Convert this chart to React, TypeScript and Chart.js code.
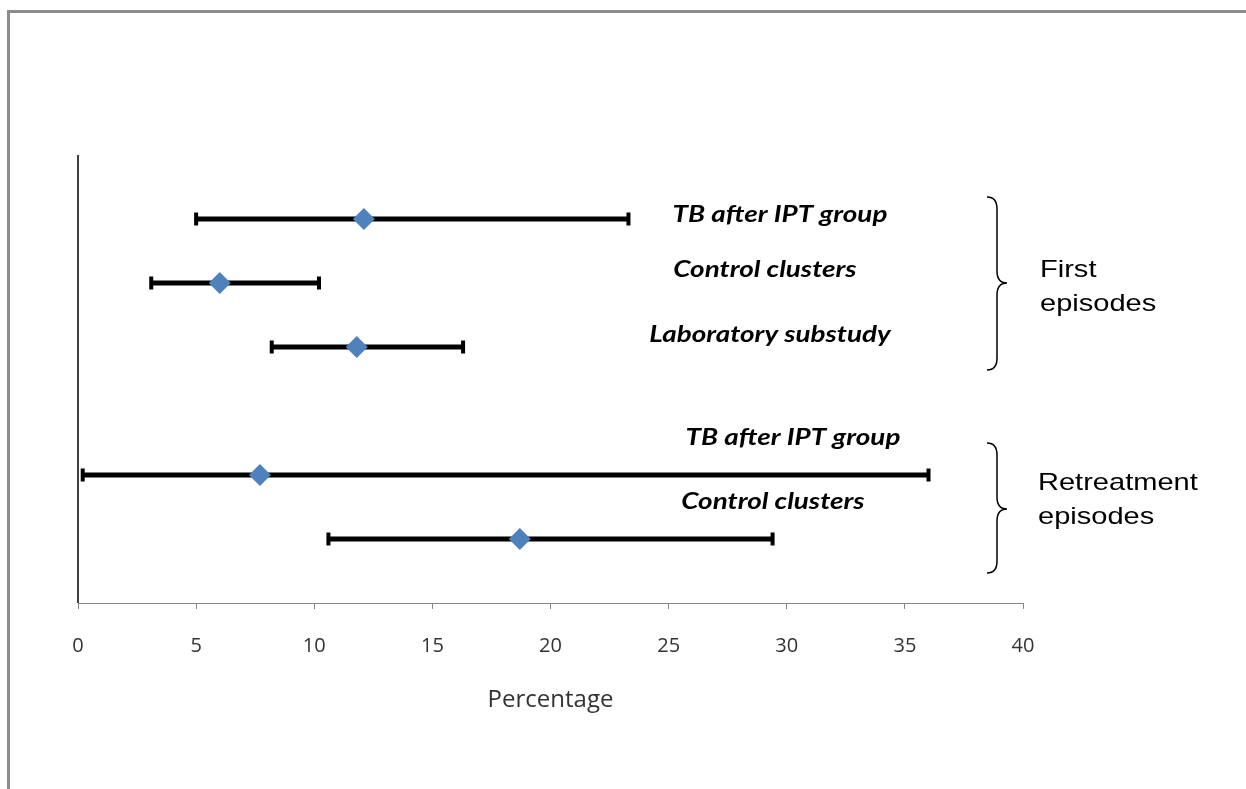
import React, { useEffect, useRef } from "react";
import { Chart, registerables } from "chart.js";

Chart.register(...registerables);

// Rows (y-position index, 6 = top) and values (percentage)
const rowLabels = ["TB after IPT group", "Control clusters", "Laboratory substudy", "TB after IPT group", "Control clusters"];
const rowPositions = [6, 5, 4, 2, 1];
const estimates = [12.1, 6.0, 11.8, 7.7, 18.7];
const lowerCI = [5.0, 3.1, 8.2, 0.2, 10.6];
const upperCI = [23.3, 10.2, 16.3, 36.0, 29.4];
const xTicks = [0, 5, 10, 15, 20, 25, 30, 35, 40];
const groupNames = [["First", "episodes"], ["Retreatment", "episodes"]];

// label placement (pixel centers) and brace placement
const labelPx = [
  { x: 780, y: 215 },
  { x: 765, y: 270 },
  { x: 770, y: 335 },
  { x: 793, y: 438 },
  { x: 773, y: 502 },
];
const bracePx = [
  { top: 197, tip: 283, bottom: 370, textX: 1040, textY: [277, 311] },
  { top: 443, tip: 509, bottom: 573, textX: 1038, textY: [490, 524] },
];
const STRETCH = 1.21;

const sansFont = "'Open Sans', Lato, sans-serif";

const overlayPlugin = {
  id: "overlay",
  beforeDraw(chart: any) {
    const ctx = chart.ctx;
    ctx.save();
    ctx.fillStyle = "#ffffff";
    ctx.fillRect(0, 0, chart.width, chart.height);
    // outer frame
    ctx.strokeStyle = "#8c8c8c";
    ctx.lineWidth = 3;
    ctx.beginPath();
    ctx.moveTo(8.5, chart.height);
    ctx.lineTo(8.5, 11.5);
    ctx.lineTo(chart.width, 11.5);
    ctx.stroke();
    ctx.restore();
  },
  afterDatasetsDraw(chart: any) {
    const ctx = chart.ctx;
    const area = chart.chartArea;
    ctx.save();
    // y axis line
    ctx.strokeStyle = "#000000";
    ctx.lineWidth = 1.5;
    ctx.beginPath();
    ctx.moveTo(area.left, area.top);
    ctx.lineTo(area.left, area.bottom);
    ctx.stroke();

    // row labels (horizontally stretched like the reference)
    ctx.fillStyle = "#000000";
    ctx.font = "italic bold 23px Lato, 'Open Sans', sans-serif";
    ctx.textAlign = "center";
    ctx.textBaseline = "middle";
    rowLabels.forEach((t, i) => {
      ctx.save();
      ctx.translate(labelPx[i].x, labelPx[i].y);
      ctx.scale(STRETCH, 1);
      ctx.fillText(t, 0, 0);
      ctx.restore();
    });

    // braces
    ctx.lineWidth = 1.5;
    bracePx.forEach((b, gi) => {
      const x0 = 987, x1 = 997, x2 = 1007;
      ctx.beginPath();
      ctx.moveTo(x0, b.top);
      ctx.quadraticCurveTo(x1, b.top, x1, b.top + 12);
      ctx.lineTo(x1, b.tip - 12);
      ctx.quadraticCurveTo(x1, b.tip, x2, b.tip);
      ctx.quadraticCurveTo(x1, b.tip, x1, b.tip + 12);
      ctx.lineTo(x1, b.bottom - 12);
      ctx.quadraticCurveTo(x1, b.bottom, x0, b.bottom);
      ctx.stroke();
      ctx.font = "24px 'Liberation Sans', Arial, sans-serif";
      ctx.textAlign = "left";
      ctx.textBaseline = "alphabetic";
      groupNames[gi].forEach((line, li) => {
        ctx.save();
        ctx.translate(b.textX, b.textY[li]);
        ctx.scale(STRETCH, 1);
        ctx.fillText(line, 0, 0);
        ctx.restore();
      });
    });
    ctx.restore();
  },
};

export default function App() {
  const ref = useRef<HTMLCanvasElement>(null);
  useEffect(() => {
    if (!ref.current) return;
    const ciDatasets = rowPositions.map((y, i) => ({
      type: "line" as const,
      data: [
        { x: lowerCI[i], y },
        { x: upperCI[i], y },
      ],
      borderColor: "#000000",
      backgroundColor: "#000000",
      borderWidth: 5,
      pointStyle: "line" as const,
      pointRotation: 90,
      pointRadius: 6.5,
      pointBorderWidth: 4,
      pointBorderColor: "#000000",
      showLine: true,
      order: 2,
    }));
    const chart = new Chart(ref.current, {
      type: "scatter",
      data: {
        datasets: [
          {
            type: "scatter" as const,
            data: rowPositions.map((y, i) => ({ x: estimates[i], y })),
            pointStyle: "rectRot",
            pointRadius: 11,
            pointBackgroundColor: "#4f81bd",
            pointBorderColor: "#4f81bd",
            pointBorderWidth: 0,
            order: 0,
          },
          ...ciDatasets,
        ] as any,
      },
      options: {
        responsive: false,
        animation: false,
        events: [],
        layout: { padding: { left: 78, right: 223, top: 155, bottom: 0 } },
        plugins: { legend: { display: false }, tooltip: { enabled: false }, title: { display: false } },
        scales: {
          x: {
            type: "linear",
            min: 0,
            max: 40,
            afterBuildTicks: (scale: any) => {
              scale.ticks = xTicks.map((v) => ({ value: v }));
            },
            afterFit: (scale: any) => {
              scale.height = 186;
            },
            grid: {
              drawOnChartArea: false,
              drawTicks: true,
              tickLength: 6,
              color: "#868686",
              lineWidth: 1,
            },
            border: { display: true, color: "#868686", width: 1 },
            ticks: {
              color: "#333333",
              font: { family: sansFont, size: 20 },
              padding: 25,
              maxRotation: 0,
              autoSkip: false,
            },
            title: {
              display: true,
              text: "Percentage",
              color: "#333333",
              font: { family: sansFont, size: 24 },
              padding: { top: 4, bottom: 74 },
            },
          },
          y: {
            type: "linear",
            min: 0,
            max: 7,
            display: false,
          },
        },
      },
      plugins: [overlayPlugin],
    });
    return () => chart.destroy();
  }, []);
  return (
    <canvas
      ref={ref}
      width={1246}
      height={789}
      style={{ position: "fixed", left: 0, top: 0, width: 1246, height: 789 }}
    />
  );
}
